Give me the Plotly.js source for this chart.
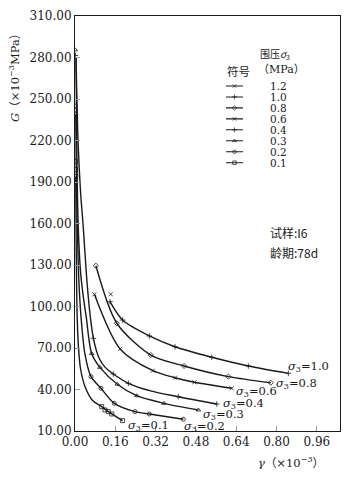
<!DOCTYPE html>
<html>
<head>
<meta charset="utf-8">
<script src="https://cdn.plot.ly/plotly-3.0.1.min.js"></script>
<style>html,body{margin:0;padding:0;background:#fff;}#chart{width:351px;height:480px;}</style>
</head>
<body>
<div id="chart"></div>
<script>
// confining pressure labels (MPa)
const pressures = ['1.2', '1.0', '0.8', '0.6', '0.4', '0.3', '0.2', '0.1'];
const symbols = ['x-thin-open', 'cross-thin-open', 'diamond-open', 'x-thin-open', 'cross-thin-open', 'triangle-up-open', 'circle-open', 'square-open'];

// measured points (gamma x1e-3, G x1e-3 MPa)
const gam12 = [0.142];
const G12 = [108.8];
const gam10 = [0.139, 0.189, 0.295, 0.397, 0.543, 0.688, 0.847];
const G10 = [103.5, 90.2, 78.7, 70.9, 63.3, 57.0, 51.7];
const gam08 = [0.083, 0.166, 0.301, 0.433, 0.609, 0.777];
const G08 = [129.5, 87.9, 64.9, 57.0, 49.3, 44.9];
const gam06 = [0.077, 0.179, 0.309, 0.397, 0.474, 0.622];
const G06 = [108.8, 69.3, 53.6, 48.5, 45.2, 40.9];
const gam04 = [0.002, 0.073, 0.152, 0.212, 0.410, 0.563];
const G04 = [281.5, 77.0, 51.2, 44.5, 34.8, 29.5];
const gam03 = [0.001, 0.066, 0.099, 0.168, 0.245, 0.353, 0.490];
const G03 = [285.5, 66.0, 56.0, 43.8, 35.5, 30.0, 25.2];
const gam02 = [0.001, 0.002, 0.003, 0.0635, 0.103, 0.156, 0.238, 0.295, 0.430];
const G02 = [245, 242, 239, 49.3, 40.9, 30.0, 24.0, 22.3, 18.5];
const gam01 = [0.001, 0.002, 0.003, 0.106, 0.119, 0.132, 0.146, 0.189];
const G01 = [205, 199, 194, 27.6, 25.2, 24.0, 22.3, 17.5];

// fitted curves
const c10x = gam10, c10y = G10;
const c08x = gam08, c08y = G08;
const c06x = gam06, c06y = G06;
const c04x = [0.004, 0.012, 0.022, 0.033, 0.045, 0.058, 0.073, 0.095, 0.12, 0.152, 0.212, 0.30, 0.410, 0.563];
const c04y = [280, 220, 183, 157, 124, 97, 77, 63, 56, 51.2, 44.5, 39, 34.8, 29.5];
const c03x = [0.004, 0.008, 0.013, 0.022, 0.033, 0.045, 0.066, 0.099, 0.168, 0.245, 0.353, 0.490];
const c03y = [280, 200, 157, 125, 107, 92, 66, 56, 43.8, 35.5, 30.0, 25.2];
const c02x = [0.003, 0.005, 0.009, 0.015, 0.025, 0.04, 0.0635, 0.103, 0.156, 0.238, 0.295, 0.430];
const c02y = [239, 200, 160, 120, 90, 65, 49.3, 40.9, 30.0, 24.0, 22.3, 18.5];
const c01x = [0.003, 0.004, 0.006, 0.009, 0.014, 0.022, 0.04, 0.07, 0.106, 0.132, 0.189];
const c01y = [194, 160, 120, 90, 70, 55, 42, 32, 27.6, 24.0, 17.5];

// axis ticks
const xTickVals = [0, 0.16, 0.32, 0.48, 0.64, 0.80, 0.96];
const xTickText = ['0.00', '0.16', '0.32', '0.48', '0.64', '0.80', '0.96'];
const yTickVals = [10, 40, 70, 100, 130, 160, 190, 220, 250, 280, 310];
const yTickText = ['10.00', '40.00', '70.00', '100.00', '130.00', '160.00', '190.00', '220.00', '250.00', '280.00', '310.00'];

const serif = 'DejaVu Serif, Noto Sans CJK SC, serif';
const cjk = 'Noto Sans CJK SC, DejaVu Serif, sans-serif';
const ink = '#1a1a1a';

const pts = [[gam12, G12], [gam10, G10], [gam08, G08], [gam06, G06], [gam04, G04], [gam03, G03], [gam02, G02], [gam01, G01]];
const curves = [null, [c10x, c10y], [c08x, c08y], [c06x, c06y], [c04x, c04y], [c03x, c03y], [c02x, c02y], [c01x, c01y]];

const traces = [];
curves.forEach((c) => {
  if (!c) return;
  traces.push({x: c[0], y: c[1], mode: 'lines', type: 'scatter', showlegend: false, hoverinfo: 'skip',
    line: {color: ink, width: 1.4, shape: 'spline', smoothing: 0.8}});
});
pts.forEach((p, i) => {
  traces.push({x: p[0], y: p[1], mode: 'markers', type: 'scatter', showlegend: false,
    marker: {symbol: symbols[i], size: 4, color: ink, line: {color: ink, width: 0.8}}});
});
// inset legend rows
pressures.forEach((p, i) => {
  traces.push({x: [2, 10.5, 19], y: [i, i, i], xaxis: 'x2', yaxis: 'y2', mode: 'lines+markers', type: 'scatter',
    showlegend: false, hoverinfo: 'skip',
    line: {color: ink, width: 1.1},
    marker: {symbol: symbols[i], size: 3.5, opacity: [0, 1, 0], color: ink, line: {color: ink, width: 0.7}}});
});

const annotations = [];
pressures.forEach((p, i) => {
  annotations.push({xref: 'x2', yref: 'y2', x: 44, y: i, text: p, showarrow: false, xanchor: 'left', yanchor: 'middle',
    font: {family: serif, size: 10.5, color: ink}});
});
const curveLabels = [
  ['1.0', 0.842, 56.3], ['0.8', 0.794, 44.0], ['0.6', 0.635, 38.9], ['0.4', 0.584, 30.2],
  ['0.3', 0.504, 21.6], ['0.2', 0.429, 13.6], ['0.1', 0.207, 14.3]
];
curveLabels.forEach((l) => {
  annotations.push({xref: 'x', yref: 'y', x: l[1], y: l[2], text: '<i>σ</i><sub>3</sub>=' + l[0], showarrow: false,
    xanchor: 'left', yanchor: 'middle', borderpad: 0, font: {family: serif, size: 11.5, color: ink}});
});
annotations.push(
  {xref: 'paper', yref: 'paper', x: -0.2264, y: 0.858, text: '<i>G</i>（×10<sup>−3</sup>MPa）', textangle: -90,
   showarrow: false, xanchor: 'center', yanchor: 'middle', font: {family: serif, size: 11.5, color: ink}},
  {xref: 'paper', yref: 'paper', x: 0.815, y: -0.077, text: '<i>γ</i>（×10<sup>−3</sup>）',
   showarrow: false, xanchor: 'center', yanchor: 'middle', font: {family: serif, size: 11.5, color: ink}},
  {xref: 'paper', yref: 'paper', x: 0.728, y: 0.4795, text: '试样:I6', showarrow: false, xanchor: 'left', yanchor: 'middle',
   font: {family: cjk, size: 12, color: ink}},
  {xref: 'paper', yref: 'paper', x: 0.728, y: 0.431, text: '龄期:78d', showarrow: false, xanchor: 'left', yanchor: 'middle',
   font: {family: cjk, size: 12, color: ink}},
  {xref: 'paper', yref: 'paper', x: 0.617, y: 0.8675, text: '符号', showarrow: false, xanchor: 'center', yanchor: 'middle',
   font: {family: cjk, size: 11.5, color: ink}},
  {xref: 'paper', yref: 'paper', x: 0.755, y: 0.9084, text: '围压<i>σ</i><sub>3</sub>', showarrow: false, xanchor: 'center', yanchor: 'middle',
   font: {family: cjk, size: 10, color: ink}},
  {xref: 'paper', yref: 'paper', x: 0.779, y: 0.8699, text: '（MPa）', showarrow: false, xanchor: 'center', yanchor: 'middle',
   font: {family: serif, size: 11, color: ink}}
);

const layout = {
  width: 351, height: 480,
  margin: {l: 75, r: 11, t: 16, b: 49},
  paper_bgcolor: '#fff', plot_bgcolor: '#fff',
  showlegend: false,
  xaxis: {range: [0, 1.052], tickmode: 'array', tickvals: xTickVals, ticktext: xTickText,
    ticks: 'inside', ticklen: 5, tickcolor: '#999', tickwidth: 1,
    showline: true, linecolor: ink, linewidth: 1, mirror: true, showgrid: false, zeroline: false,
    tickfont: {family: serif, size: 12, color: ink}},
  yaxis: {range: [10, 310], tickmode: 'array', tickvals: yTickVals, ticktext: yTickText,
    ticks: 'inside', ticklen: 5, tickcolor: '#999', tickwidth: 1,
    showline: true, linecolor: ink, linewidth: 1, mirror: true, showgrid: false, zeroline: false,
    tickfont: {family: serif, size: 12, color: ink}},
  xaxis2: {domain: [0.5623, 0.8113], range: [0, 66], anchor: 'y2', visible: false, fixedrange: true},
  yaxis2: {domain: [0.6333, 0.8446], range: [7.5, -0.5], anchor: 'x2', visible: false, fixedrange: true},
  annotations: annotations
};

Plotly.newPlot('chart', traces, layout, {displayModeBar: false, staticPlot: true});
</script>
</body>
</html>
